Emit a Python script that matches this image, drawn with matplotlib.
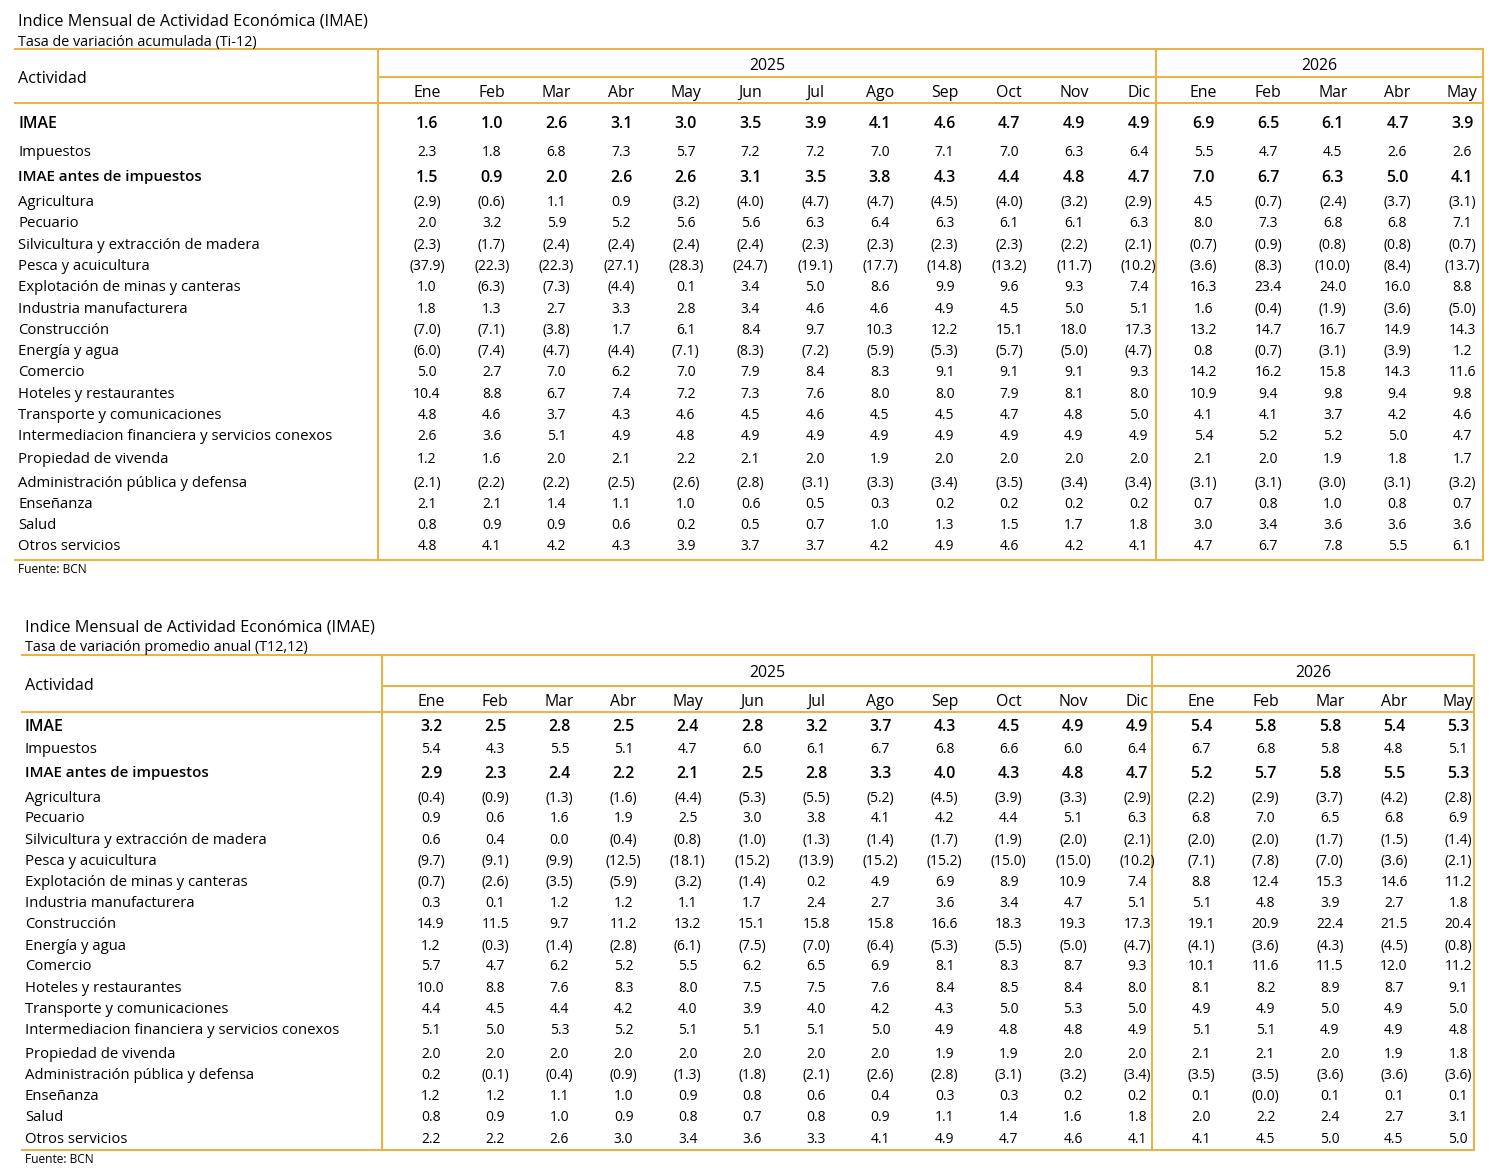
import math
import matplotlib
matplotlib.use("Agg")
import matplotlib.pyplot as plt

plt.rcParams['font.family'] = ['Open Sans', 'DejaVu Sans']

# Datos
meses = ['Ene', 'Feb', 'Mar', 'Abr', 'May', 'Jun', 'Jul', 'Ago', 'Sep', 'Oct', 'Nov', 'Dic',
         'Ene', 'Feb', 'Mar', 'Abr', 'May']
anios = ['2025', '2026']
actividades = ['IMAE', 'Impuestos', 'IMAE antes de impuestos', 'Agricultura', 'Pecuario',
               'Silvicultura y extracción de madera', 'Pesca y acuicultura',
               'Explotación de minas y canteras', 'Industria manufacturera', 'Construcción',
               'Energía y agua', 'Comercio', 'Hoteles y restaurantes',
               'Transporte y comunicaciones', 'Intermediacion financiera y servicios conexos',
               'Propiedad de vivenda', 'Administración pública y defensa', 'Enseñanza',
               'Salud', 'Otros servicios']
filas_negrita = ['IMAE', 'IMAE antes de impuestos']

# Tasa de variación acumulada (Ti-12)
acumulada = [
    [1.6, 1.0, 2.6, 3.1, 3.0, 3.5, 3.9, 4.1, 4.6, 4.7, 4.9, 4.9, 6.9, 6.5, 6.1, 4.7, 3.9],
    [2.3, 1.8, 6.8, 7.3, 5.7, 7.2, 7.2, 7.0, 7.1, 7.0, 6.3, 6.4, 5.5, 4.7, 4.5, 2.6, 2.6],
    [1.5, 0.9, 2.0, 2.6, 2.6, 3.1, 3.5, 3.8, 4.3, 4.4, 4.8, 4.7, 7.0, 6.7, 6.3, 5.0, 4.1],
    [-2.9, -0.6, 1.1, 0.9, -3.2, -4.0, -4.7, -4.7, -4.5, -4.0, -3.2, -2.9, 4.5, -0.7, -2.4, -3.7, -3.1],
    [2.0, 3.2, 5.9, 5.2, 5.6, 5.6, 6.3, 6.4, 6.3, 6.1, 6.1, 6.3, 8.0, 7.3, 6.8, 6.8, 7.1],
    [-2.3, -1.7, -2.4, -2.4, -2.4, -2.4, -2.3, -2.3, -2.3, -2.3, -2.2, -2.1, -0.7, -0.9, -0.8, -0.8, -0.7],
    [-37.9, -22.3, -22.3, -27.1, -28.3, -24.7, -19.1, -17.7, -14.8, -13.2, -11.7, -10.2, -3.6, -8.3, -10.0, -8.4, -13.7],
    [1.0, -6.3, -7.3, -4.4, 0.1, 3.4, 5.0, 8.6, 9.9, 9.6, 9.3, 7.4, 16.3, 23.4, 24.0, 16.0, 8.8],
    [1.8, 1.3, 2.7, 3.3, 2.8, 3.4, 4.6, 4.6, 4.9, 4.5, 5.0, 5.1, 1.6, -0.4, -1.9, -3.6, -5.0],
    [-7.0, -7.1, -3.8, 1.7, 6.1, 8.4, 9.7, 10.3, 12.2, 15.1, 18.0, 17.3, 13.2, 14.7, 16.7, 14.9, 14.3],
    [-6.0, -7.4, -4.7, -4.4, -7.1, -8.3, -7.2, -5.9, -5.3, -5.7, -5.0, -4.7, 0.8, -0.7, -3.1, -3.9, 1.2],
    [5.0, 2.7, 7.0, 6.2, 7.0, 7.9, 8.4, 8.3, 9.1, 9.1, 9.1, 9.3, 14.2, 16.2, 15.8, 14.3, 11.6],
    [10.4, 8.8, 6.7, 7.4, 7.2, 7.3, 7.6, 8.0, 8.0, 7.9, 8.1, 8.0, 10.9, 9.4, 9.8, 9.4, 9.8],
    [4.8, 4.6, 3.7, 4.3, 4.6, 4.5, 4.6, 4.5, 4.5, 4.7, 4.8, 5.0, 4.1, 4.1, 3.7, 4.2, 4.6],
    [2.6, 3.6, 5.1, 4.9, 4.8, 4.9, 4.9, 4.9, 4.9, 4.9, 4.9, 4.9, 5.4, 5.2, 5.2, 5.0, 4.7],
    [1.2, 1.6, 2.0, 2.1, 2.2, 2.1, 2.0, 1.9, 2.0, 2.0, 2.0, 2.0, 2.1, 2.0, 1.9, 1.8, 1.7],
    [-2.1, -2.2, -2.2, -2.5, -2.6, -2.8, -3.1, -3.3, -3.4, -3.5, -3.4, -3.4, -3.1, -3.1, -3.0, -3.1, -3.2],
    [2.1, 2.1, 1.4, 1.1, 1.0, 0.6, 0.5, 0.3, 0.2, 0.2, 0.2, 0.2, 0.7, 0.8, 1.0, 0.8, 0.7],
    [0.8, 0.9, 0.9, 0.6, 0.2, 0.5, 0.7, 1.0, 1.3, 1.5, 1.7, 1.8, 3.0, 3.4, 3.6, 3.6, 3.6],
    [4.8, 4.1, 4.2, 4.3, 3.9, 3.7, 3.7, 4.2, 4.9, 4.6, 4.2, 4.1, 4.7, 6.7, 7.8, 5.5, 6.1],
]

# Tasa de variación promedio anual (T12,12)
promedio = [
    [3.2, 2.5, 2.8, 2.5, 2.4, 2.8, 3.2, 3.7, 4.3, 4.5, 4.9, 4.9, 5.4, 5.8, 5.8, 5.4, 5.3],
    [5.4, 4.3, 5.5, 5.1, 4.7, 6.0, 6.1, 6.7, 6.8, 6.6, 6.0, 6.4, 6.7, 6.8, 5.8, 4.8, 5.1],
    [2.9, 2.3, 2.4, 2.2, 2.1, 2.5, 2.8, 3.3, 4.0, 4.3, 4.8, 4.7, 5.2, 5.7, 5.8, 5.5, 5.3],
    [-0.4, -0.9, -1.3, -1.6, -4.4, -5.3, -5.5, -5.2, -4.5, -3.9, -3.3, -2.9, -2.2, -2.9, -3.7, -4.2, -2.8],
    [0.9, 0.6, 1.6, 1.9, 2.5, 3.0, 3.8, 4.1, 4.2, 4.4, 5.1, 6.3, 6.8, 7.0, 6.5, 6.8, 6.9],
    [0.6, 0.4, 0.0, -0.4, -0.8, -1.0, -1.3, -1.4, -1.7, -1.9, -2.0, -2.1, -2.0, -2.0, -1.7, -1.5, -1.4],
    [-9.7, -9.1, -9.9, -12.5, -18.1, -15.2, -13.9, -15.2, -15.2, -15.0, -15.0, -10.2, -7.1, -7.8, -7.0, -3.6, -2.1],
    [-0.7, -2.6, -3.5, -5.9, -3.2, -1.4, 0.2, 4.9, 6.9, 8.9, 10.9, 7.4, 8.8, 12.4, 15.3, 14.6, 11.2],
    [0.3, 0.1, 1.2, 1.2, 1.1, 1.7, 2.4, 2.7, 3.6, 3.4, 4.7, 5.1, 5.1, 4.8, 3.9, 2.7, 1.8],
    [14.9, 11.5, 9.7, 11.2, 13.2, 15.1, 15.8, 15.8, 16.6, 18.3, 19.3, 17.3, 19.1, 20.9, 22.4, 21.5, 20.4],
    [1.2, -0.3, -1.4, -2.8, -6.1, -7.5, -7.0, -6.4, -5.3, -5.5, -5.0, -4.7, -4.1, -3.6, -4.3, -4.5, -0.8],
    [5.7, 4.7, 6.2, 5.2, 5.5, 6.2, 6.5, 6.9, 8.1, 8.3, 8.7, 9.3, 10.1, 11.6, 11.5, 12.0, 11.2],
    [10.0, 8.8, 7.6, 8.3, 8.0, 7.5, 7.5, 7.6, 8.4, 8.5, 8.4, 8.0, 8.1, 8.2, 8.9, 8.7, 9.1],
    [4.4, 4.5, 4.4, 4.2, 4.0, 3.9, 4.0, 4.2, 4.3, 5.0, 5.3, 5.0, 4.9, 4.9, 5.0, 4.9, 5.0],
    [5.1, 5.0, 5.3, 5.2, 5.1, 5.1, 5.1, 5.0, 4.9, 4.8, 4.8, 4.9, 5.1, 5.1, 4.9, 4.9, 4.8],
    [2.0, 2.0, 2.0, 2.0, 2.0, 2.0, 2.0, 2.0, 1.9, 1.9, 2.0, 2.0, 2.1, 2.1, 2.0, 1.9, 1.8],
    [0.2, -0.1, -0.4, -0.9, -1.3, -1.8, -2.1, -2.6, -2.8, -3.1, -3.2, -3.4, -3.5, -3.5, -3.6, -3.6, -3.6],
    [1.2, 1.2, 1.1, 1.0, 0.9, 0.8, 0.6, 0.4, 0.3, 0.3, 0.2, 0.2, 0.1, -0.0, 0.1, 0.1, 0.1],
    [0.8, 0.9, 1.0, 0.9, 0.8, 0.7, 0.8, 0.9, 1.1, 1.4, 1.6, 1.8, 2.0, 2.2, 2.4, 2.7, 3.1],
    [2.2, 2.2, 2.6, 3.0, 3.4, 3.6, 3.3, 4.1, 4.9, 4.7, 4.6, 4.1, 4.1, 4.5, 5.0, 4.5, 5.0],
]

titulo = 'Indice Mensual de Actividad Económica (IMAE)'
subtitulos = ['Tasa de variación acumulada (Ti-12)', 'Tasa de variación promedio anual (T12,12)']
fuente = 'Fuente: BCN'

ORO = '#E5B54A'
LW = 1.5


def fmt(v):
    # negativos entre paréntesis, también -0.0
    if math.copysign(1, v) < 0:
        return '({:.1f})'.format(abs(v))
    return '{:.1f}'.format(v)


def texto(ax, x, y, s, fs, ha='left', peso='normal'):
    # y es el centro de las mayúsculas; se coloca por la línea base
    base = y + 0.357 * fs * 100 / 72
    ax.text(x, base, s, fontsize=fs, ha=ha, va='baseline', fontweight=peso)


def dibujar_tabla(ax, datos, subtitulo, L):
    x0, xdiv, x26, x1 = L['x0'], L['xdiv'], L['x26'], L['x1']
    yt, yy, ym, yb = L['y_top'], L['y_year'], L['y_mes'], L['y_bot']
    tx = x0 + 3

    texto(ax, tx, L['y_tit'], titulo, 11.7)
    texto(ax, tx, L['y_sub'], subtitulo, 10.4)

    # líneas
    ax.plot([x0, x1], [yt, yt], color=ORO, lw=LW)
    ax.plot([xdiv, x1], [yy, yy], color=ORO, lw=LW)
    ax.plot([x0, x1], [ym, ym], color=ORO, lw=LW)
    ax.plot([x0, x1], [yb, yb], color=ORO, lw=LW)
    for xv in (xdiv, x26, x1):
        ax.plot([xv, xv], [yt, yb], color=ORO, lw=LW)

    texto(ax, tx, (yt + ym) / 2 + 1, 'Actividad', 11.6)
    texto(ax, (xdiv + x26) / 2, (yt + yy) / 2 + 1, anios[0], 11.4, ha='center')
    texto(ax, (x26 + x1) / 2, (yt + yy) / 2 + 1, anios[1], 11.4, ha='center')

    cx = [L['cx0'] + L['dx'] * j for j in range(len(meses))]
    for j, m in enumerate(meses):
        texto(ax, cx[j], (yy + ym) / 2 + 1, m, 11.4, ha='center')

    for i, nombre in enumerate(actividades):
        y = L['y_fila0'] + L['offs'][i]
        negrita = nombre in filas_negrita
        peso = 'semibold' if negrita else 'normal'
        fs_lab = 11.4 if nombre == 'IMAE' else (10.9 if negrita else 10.7)
        texto(ax, tx, y, nombre, fs_lab, peso=peso)
        for j, v in enumerate(datos[i]):
            texto(ax, cx[j], y, fmt(v), 11.4 if negrita else 10, ha='center', peso=peso)

    texto(ax, tx, yb + 9, fuente, 8.6)


fig = plt.figure(figsize=(14.98, 11.70), dpi=100)
ax = fig.add_axes([0, 0, 1, 1])
ax.set_xlim(0, 1498)
ax.set_ylim(1170, 0)
ax.axis('off')

tabla1 = dict(x0=15, xdiv=378, x26=1156, x1=1483, y_tit=20, y_sub=41, y_top=49, y_year=77,
              y_mes=103, y_bot=560, y_fila0=122, cx0=427, dx=64.7,
              offs=[0, 29, 54, 79, 100, 122, 143, 164, 186, 207, 228, 249, 271, 292, 313,
                    336, 360, 381, 402, 423])
tabla2 = dict(x0=22, xdiv=382, x26=1152, x1=1474, y_tit=626, y_sub=646, y_top=655, y_year=686,
              y_mes=712, y_bot=1150, y_fila0=725, cx0=431, dx=64.2,
              offs=[0, 23, 47, 72, 92, 114, 135, 156, 177, 198, 220, 240, 262, 283, 304,
                    328, 349, 370, 391, 413])

dibujar_tabla(ax, acumulada, subtitulos[0], tabla1)
dibujar_tabla(ax, promedio, subtitulos[1], tabla2)

fig.savefig('out.png', dpi=100)
